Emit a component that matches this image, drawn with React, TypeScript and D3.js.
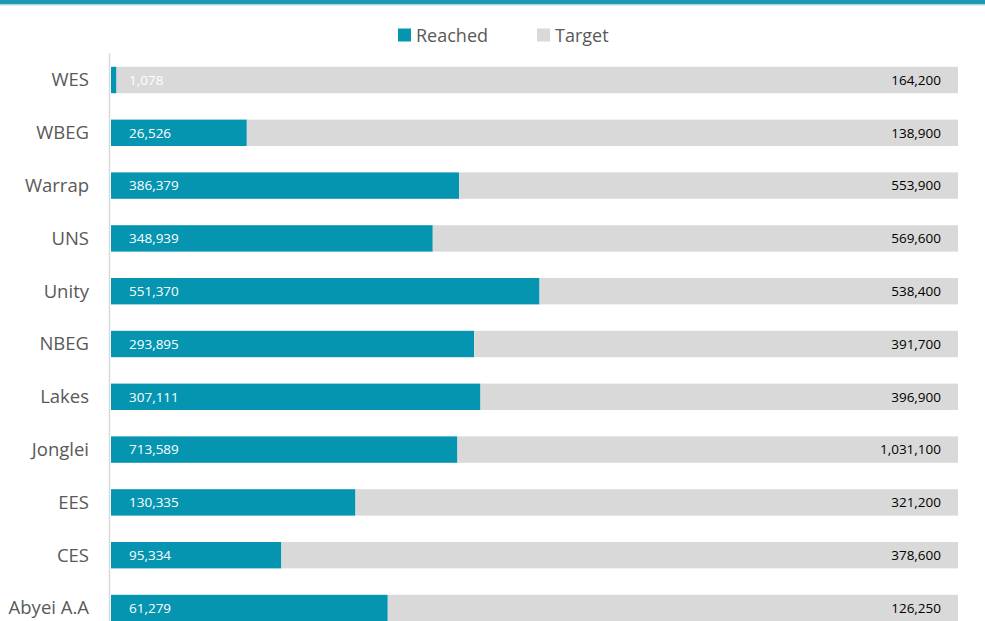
import React from "react";
import * as d3 from "d3";

const categories = ["WES", "WBEG", "Warrap", "UNS", "Unity", "NBEG", "Lakes", "Jonglei", "EES", "CES", "Abyei A.A"];
const reached = [1078, 26526, 386379, 348939, 551370, 293895, 307111, 713589, 130335, 95334, 61279];
const target = [164200, 138900, 553900, 569600, 538400, 391700, 396900, 1031100, 321200, 378600, 126250];
const seriesNames = ["Reached", "Target"];

const W = 985;
const H = 621;
const TEAL = "#0595b1";
const GRAY = "#d9d9d9";
const FONT = "'Open Sans', 'Liberation Sans', Arial, sans-serif";
const NUMFONT = "'Open Sans', Lato, sans-serif";

export default function App() {
  const rows = categories.map((c, i) => ({ cat: c, Reached: reached[i], Target: target[i] }));
  const stack = d3.stack<any>().keys(seriesNames).offset(d3.stackOffsetExpand);
  const layers = stack(rows);

  const x = d3.scaleLinear().domain([0, 1]).range([111, 958]);
  const y = d3.scaleBand().domain(categories).range([53.6, 634.4]).paddingInner(0.5).paddingOuter(0.25);
  const bw = y.bandwidth();
  const fmt = d3.format(",");
  const colors = [TEAL, GRAY];

  return (
    <svg width={W} height={H} style={{ position: "absolute", left: 0, top: 0, background: "#fff" }}>
      <rect x={0} y={0} width={W} height={4} fill="#1f98b1" />
      <rect x={0} y={4} width={W} height={1.5} fill="#a9d9e3" />

      {/* legend */}
      <g fontFamily={FONT} fontSize={18} fill="#595959">
        <rect x={398} y={28.5} width={13} height={13} fill={TEAL} />
        <text x={416} y={42}>Reached</text>
        <rect x={537} y={28.5} width={13} height={13} fill={GRAY} />
        <text x={555} y={42}>Target</text>
      </g>

      {/* bars */}
      {layers.map((layer, li) => (
        <g key={layer.key} fill={colors[li]}>
          {layer.map((d, i) => (
            <rect
              key={i}
              x={x(d[0])}
              y={y(categories[i])!}
              width={Math.max(0, x(d[1]) - x(d[0]))}
              height={bw}
            />
          ))}
        </g>
      ))}

      {/* axis line */}
      <line x1={109.5} x2={109.5} y1={53} y2={H} stroke="#d9d9d9" strokeWidth={1.5} />

      {/* category labels */}
      <g fontFamily={FONT} fontSize={18.5} fill="#595959" textAnchor="end">
        {categories.map((c) => (
          <text key={c} x={89} y={y(c)! + bw / 2} dy="0.35em">{c}</text>
        ))}
      </g>

      {/* value labels */}
      <g fontFamily={NUMFONT} fontSize={13.5}>
        {categories.map((c, i) => (
          <g key={c}>
            <text x={129} y={y(c)! + bw / 2} dy="0.36em" fill="#fff">{fmt(reached[i])}</text>
            <text x={941} y={y(c)! + bw / 2} dy="0.36em" fill="#000" textAnchor="end">{fmt(target[i])}</text>
          </g>
        ))}
      </g>
    </svg>
  );
}
